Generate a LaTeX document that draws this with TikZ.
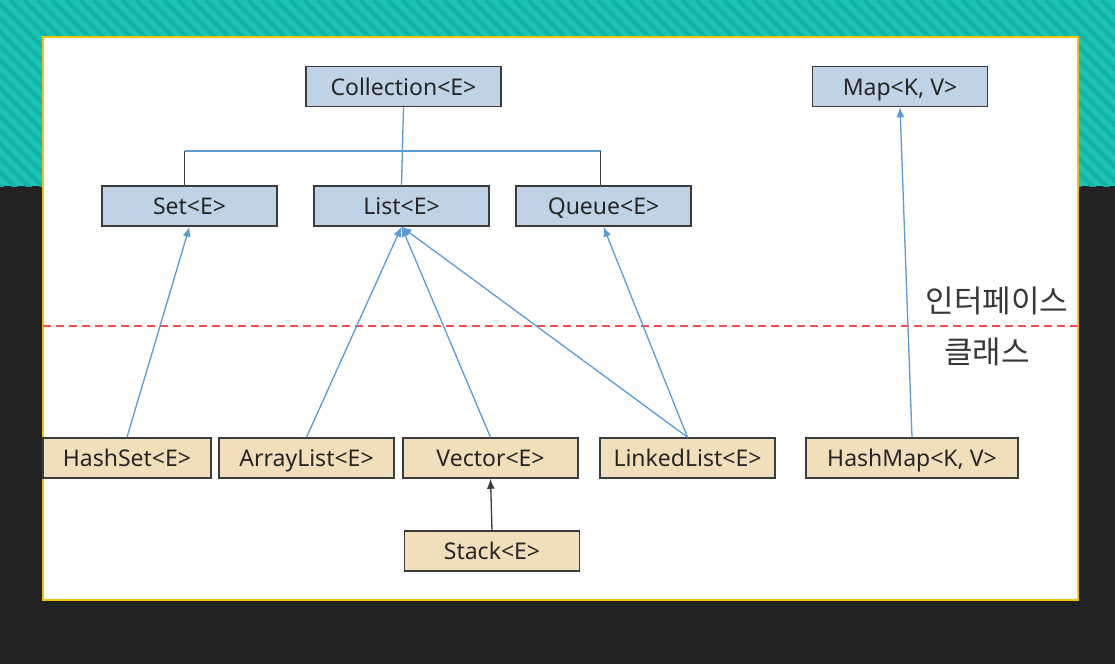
\documentclass[tikz,border=0pt]{standalone}
\usepackage{fontspec}
\setmainfont{Noto Sans}
\newfontfamily\krfont{Noto Sans CJK KR}
\usetikzlibrary{arrows.meta}

\definecolor{tealA}{HTML}{1CC3B7}
\definecolor{tealB}{HTML}{12B3A7}
\definecolor{darkbg}{HTML}{222222}
\definecolor{framegold}{HTML}{F4C20D}
\definecolor{ifacefill}{HTML}{C0D3E6}
\definecolor{classfill}{HTML}{F0DFBA}
\definecolor{boxline}{HTML}{3C3C3C}
\definecolor{linkblue}{HTML}{5B9BD5}
\definecolor{sepred}{HTML}{FF4B4B}

\begin{document}
\begin{tikzpicture}[x=1pt,y=-1pt,>={Latex[length=10pt,width=8pt]},thick,
		box/.style={rectangle,draw=boxline,line width=1.5pt,minimum width=175pt,
			minimum height=40pt,inner sep=0pt,text height=17pt,text depth=0pt,
			text=black!85,font=\fontsize{23}{27}\selectfont},
		iface node/.style={box,fill=ifacefill},
		class node/.style={box,fill=classfill},
		impl/.style={draw=linkblue,->,line width=1.3pt},
		tree/.style={line width=1.3pt},
		label text/.style={text=black!78,font=\krfont\fontsize{31}{34}\selectfont}]
		
		\useasboundingbox (0,0) rectangle (1115,664);
		\fill[darkbg] (0,0) rectangle (1115,664);
		\begin{scope}
			\clip (0,0) rectangle (1115,186);
			\fill[tealA] (0,0) rectangle (1115,186);
			\foreach \a in {-200,-186,...,1120}
				\draw[tealB,line width=4.5pt] (\a,0) -- (\a+200,200);
		\end{scope}
		\draw[framegold,fill=white,line width=2pt] (43,37) rectangle (1078,600);
		
		\node[iface node, minimum width=195pt] (1) at (403.5,86.5) {Collection<E>};
		\node[iface node] (2) at (189.5,206) {Set<E>};
		\node[iface node] (3) at (401.5,206) {List<E>};
		\node[iface node] (4) at (603.5,206) {Queue<E>};
		\node[iface node] (5) at (900,86.5) {Map<K, V>};
		\node[class node, minimum width=168pt] (6) at (127,458) {HashSet<E>};
		\node[class node] (7) at (306.5,458) {ArrayList<E>};
		\node[class node] (8) at (490.5,458) {Vector<E>};
		\node[class node] (9) at (687.5,458) {LinkedList<E>};
		\node[class node, minimum width=212pt] (10) at (912,458) {HashMap<K, V>};
		\node[class node] (11) at (492,551) {Stack<E>};
		
		\node[label text] (12) at (997,301) {인터페이스};
		\node[label text] (13) at (987,352) {클래스};
		
		% interface / class border
		\coordinate (l) at (43,326);
		\coordinate (r) at (1078,326);
		\draw[sepred,line width=1.3pt,dash pattern=on 8pt off 5pt] (l) -- (r);
		
		% Collection tree
		\coordinate (b) at (403,151);
		\draw[tree,linkblue] (1.south) -- (3.north);
		\draw[tree,linkblue] ([xshift=-5pt]2.north |- b) -- ([xshift=-3pt]4.north |- b);
		\draw[tree,boxline] ([xshift=-5pt]2.north) -- ([xshift=-5pt]2.north |- b);
		\draw[tree,boxline] ([xshift=-3pt]4.north) -- ([xshift=-3pt]4.north |- b);
		
		\path[every edge/.style={impl}]
		(6.north) edge (2.south)
		(7.north) edge (3.south)
		(8.north) edge (3.south)
		(9.north) edge (3.south)
		(9.north) edge (4.south)
		(10.north) edge (5.south);
		\draw[->,boxline,line width=1.3pt] (11.north) -- (8.south);
\end{tikzpicture}
\end{document}
